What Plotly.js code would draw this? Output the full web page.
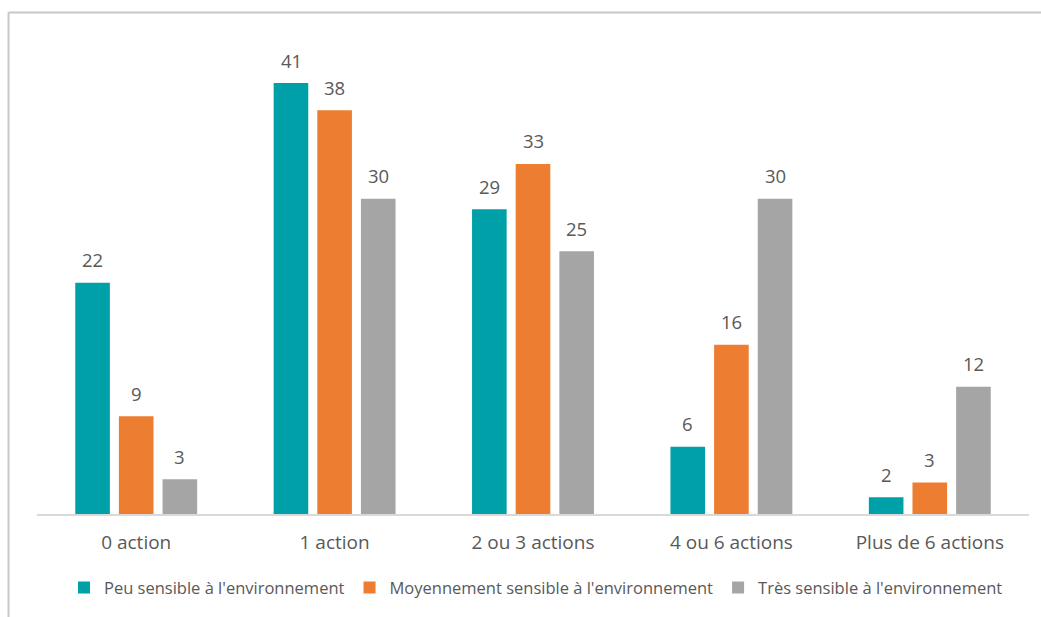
<!DOCTYPE html>
<html>
<head>
<meta charset="utf-8">
<script src="https://cdn.plot.ly/plotly-3.0.1.min.js"></script>
<style>
html,body{margin:0;padding:0;background:#fff;}
#chart{width:1041px;height:617px;}
</style>
</head>
<body>
<div id="chart"></div>
<script>
var categories = ["0 action", "1 action", "2 ou 3 actions", "4 ou 6 actions", "Plus de 6 actions"];
var seriesNames = ["Peu sensible à l'environnement", "Moyennement sensible à l'environnement", "Très sensible à l'environnement"];
var peuSensible = [22, 41, 29, 6.4, 1.6];
var moyennementSensible = [9.3, 38.4, 33.3, 16.1, 3.0];
var tresSensible = [3.3, 30, 25, 30, 12.1];
var labelsPeu = ["22", "41", "29", "6", "2"];
var labelsMoy = ["9", "38", "33", "16", "3"];
var labelsTres = ["3", "30", "25", "30", "12"];
var colors = ["#00A0A8", "#ED7D31", "#A5A5A5"];

var allValues = [peuSensible, moyennementSensible, tresSensible];
var allLabels = [labelsPeu, labelsMoy, labelsTres];

var traces = allValues.map(function (vals, i) {
  return {
    type: "bar",
    name: seriesNames[i],
    x: categories,
    y: vals,
    marker: {color: colors[i]},
    hoverinfo: "x+y+name"
  };
});

var txtFont = {family: "Open Sans, Segoe UI, sans-serif", size: 18.5, color: "#595959"};
var pitch = 43.6;
var annotations = [];
allValues.forEach(function (vals, i) {
  vals.forEach(function (v, j) {
    annotations.push({
      x: categories[j], y: v, xref: "x", yref: "y",
      text: allLabels[i][j], showarrow: false,
      xanchor: "center", yanchor: "middle",
      xshift: (i - 1) * pitch, yshift: 23,
      font: txtFont
    });
  });
});

var frameColor = "#c8c8c8";
var layout = {
  width: 1041, height: 617,
  margin: {l: 37, r: 12, t: 41, b: 103},
  paper_bgcolor: "#ffffff", plot_bgcolor: "#ffffff",
  barmode: "group",
  bargap: 0.34,
  bargroupgap: 0.207,
  showlegend: true,
  legend: {
    orientation: "h", x: 0.503, xanchor: "center", y: -0.156, yanchor: "middle",
    font: {family: "Open Sans, Segoe UI, sans-serif", size: 16.5, color: "#595959"},
    traceorder: "normal"
  },
  xaxis: {
    showline: true, linecolor: "#d9d9d9", linewidth: 1.5,
    showgrid: false, zeroline: false, ticks: "",
    ticklabelstandoff: 11,
    tickfont: {family: "Open Sans, Segoe UI, sans-serif", size: 19, color: "#595959"}
  },
  yaxis: {
    range: [0, 45], visible: false, showgrid: false, zeroline: false, fixedrange: true
  },
  annotations: annotations,
  shapes: [
    {type: "line", xref: "paper", yref: "paper", x0: -0.0287, x1: 1.02, y0: 1.0603, y1: 1.0603,
     line: {color: frameColor, width: 2}},
    {type: "line", xref: "paper", yref: "paper", x0: -0.0287, x1: -0.0287, y0: 1.0603, y1: -0.23,
     line: {color: frameColor, width: 2}}
  ]
};

Plotly.newPlot("chart", traces, layout, {displayModeBar: false, staticPlot: true});
</script>
</body>
</html>
